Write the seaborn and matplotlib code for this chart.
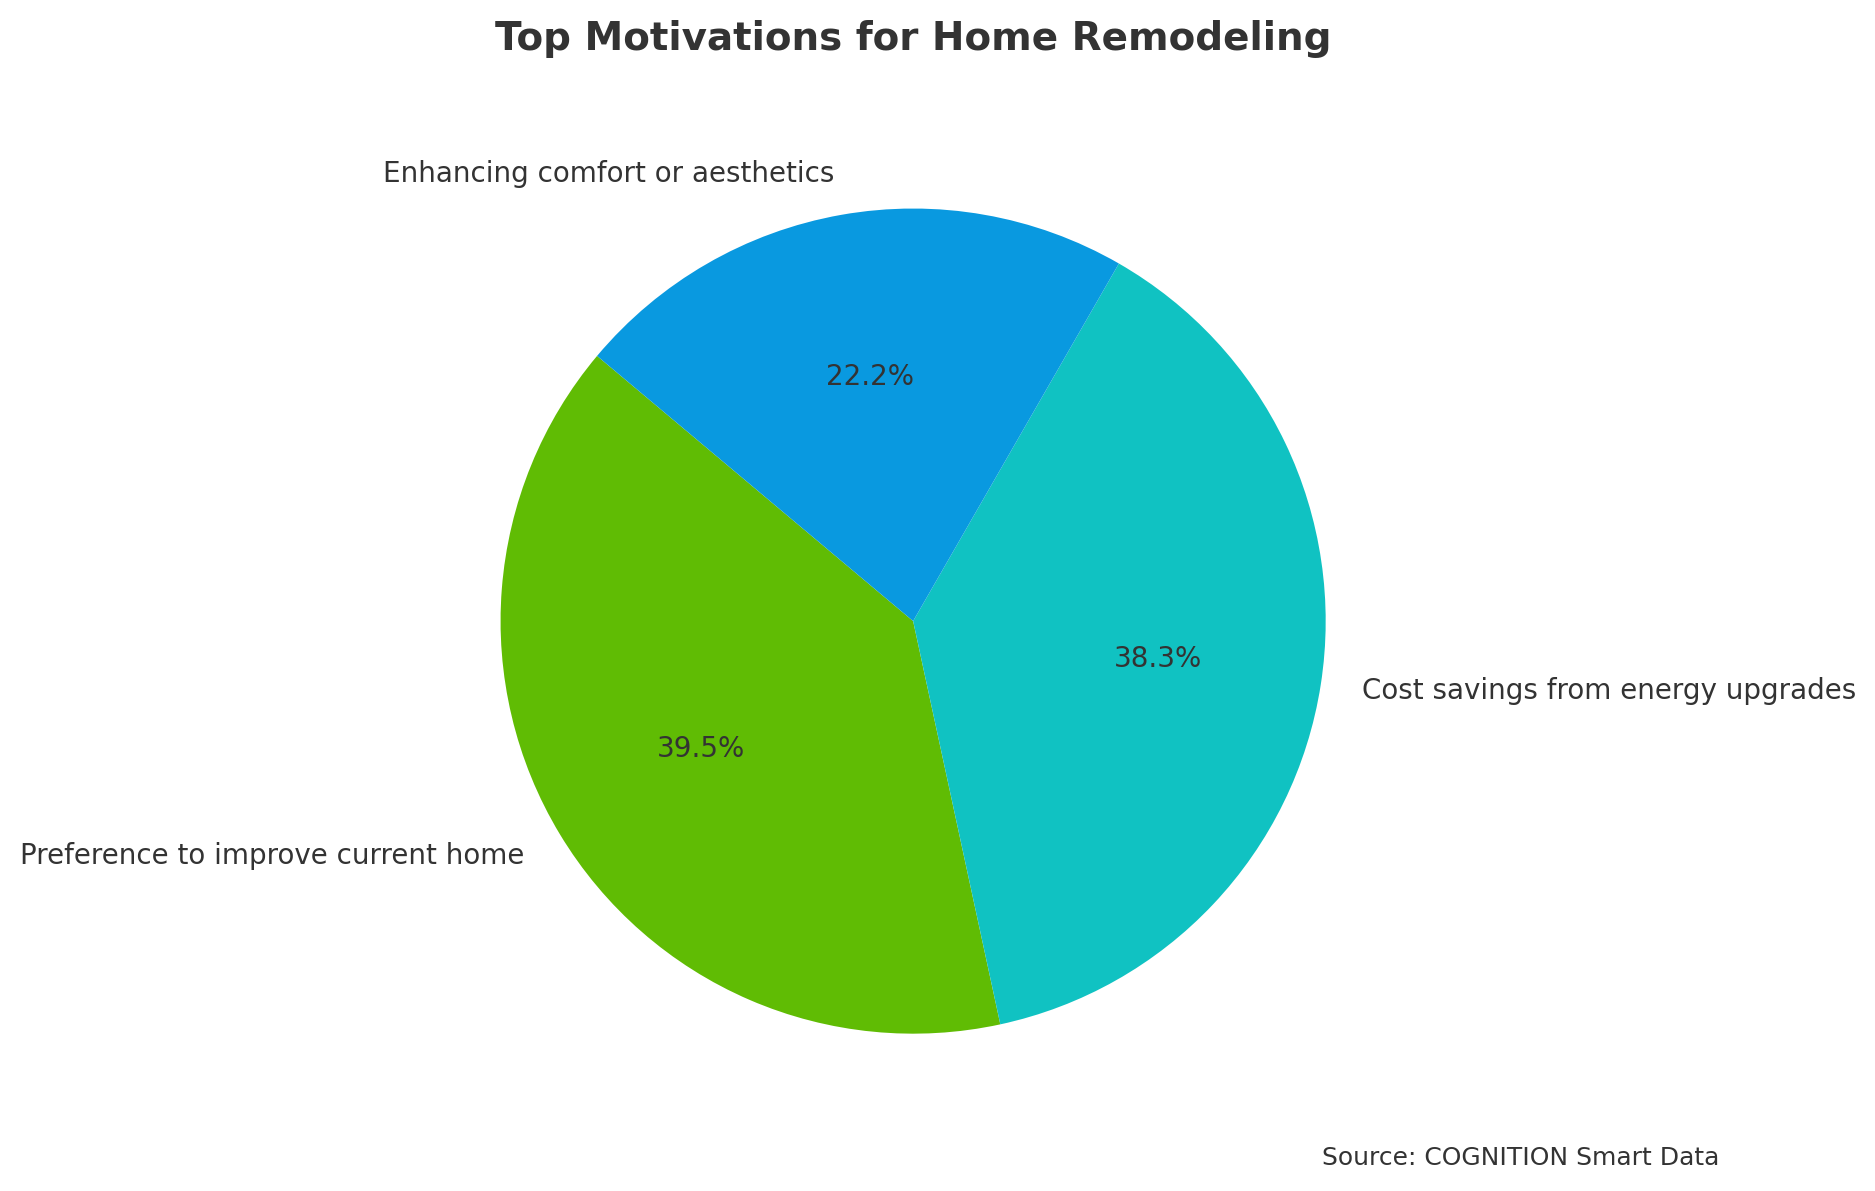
import matplotlib
matplotlib.use("Agg")
import matplotlib.pyplot as plt
import seaborn as sns

# data
motivations = ["Preference to improve current home",
               "Cost savings from energy upgrades",
               "Enhancing comfort or aesthetics"]
shares = [39.5, 38.3, 22.2]
colors = ["#60BC04", "#10C2C2", "#0999E0"]

sns.set_theme(style="white")
plt.rcParams["font.family"] = ["DejaVu Sans"]
text_color = "#333333"

fig = plt.figure(figsize=(9.375, 5.955), dpi=200)
ax = fig.add_axes([0.0, 0.0455, 0.974, 0.866])

ax.pie(shares, labels=motivations, colors=colors, startangle=140,
       autopct="%1.1f%%", pctdistance=0.6, labeldistance=1.1,
       wedgeprops={"linewidth": 0, "edgecolor": "none"},
       textprops={"fontsize": 10, "color": text_color})
ax.set_aspect("equal")

ax.set_title("Top Motivations for Home Remodeling", fontsize=14,
             fontweight="bold", color=text_color, pad=20)

fig.text(0.705, 0.028, "Source: COGNITION Smart Data", fontsize=9,
         color=text_color, ha="left", va="center")

fig.savefig("out.png", dpi=200)
